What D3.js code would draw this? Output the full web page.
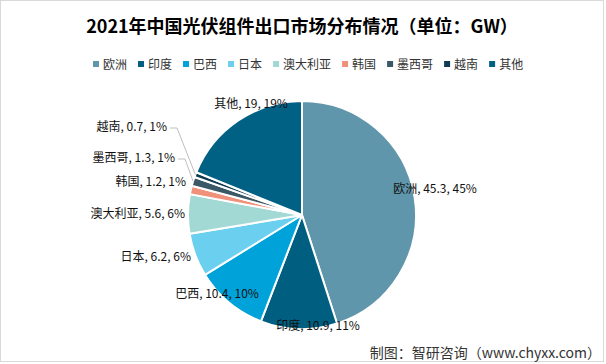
<!DOCTYPE html>
<html>
<head>
<meta charset="utf-8">
<script src="https://cdn.jsdelivr.net/npm/d3@7"></script>
<style>
  body { margin: 0; background: #fff; }
  svg text { font-family: "Noto Sans CJK SC", "Noto Sans", sans-serif; }
</style>
</head>
<body>
<div id="chart"></div>
<script>
// data (GW)
const regions = ["欧洲", "印度", "巴西", "日本", "澳大利亚", "韩国", "墨西哥", "越南", "其他"];
const values = [45.3, 10.9, 10.4, 6.2, 5.6, 1.2, 1.3, 0.7, 19];
const percents = ["45%", "11%", "10%", "6%", "6%", "1%", "1%", "1%", "19%"];
const colors = ["#6096ab", "#005f80", "#00a3d9", "#6bcff0", "#a3d9d5", "#f0917b", "#3b5866", "#0f3c52", "#006185"];

const width = 606, height = 364;
const cx = 302, cy = 215, radius = 114;

// where each label sits, relative to the pie centre
const labelLayout = {
  "欧洲": [133, -22, "middle"],
  "印度": [16, 115, "middle"],
  "巴西": [-85, 83, "middle"],
  "日本": [-111, 46, "end"],
  "澳大利亚": [-117, 3, "end"],
  "韩国": [-116, -29, "end"],
  "墨西哥": [-127, -53, "end"],
  "越南": [-135, -84, "end"],
  "其他": [-51, -107, "middle"]
};
const leaders = ["墨西哥", "越南"];

const svg = d3.select("#chart").append("svg")
  .attr("width", width)
  .attr("height", height);

// outer border
svg.append("rect")
  .attr("x", 0.5).attr("y", 0.5)
  .attr("width", width - 3).attr("height", height - 3)
  .attr("fill", "#fff")
  .attr("stroke", "#d9d9d9");

// title
svg.append("text")
  .attr("x", 302)
  .attr("y", 33)
  .attr("text-anchor", "middle")
  .style("font-size", "18px")
  .style("font-weight", "bold")
  .attr("fill", "#000")
  .text("2021年中国光伏组件出口市场分布情况（单位：GW）");

// legend
const legend = svg.append("g").attr("transform", "translate(93,64)");
let lx = 0;
regions.forEach((name, i) => {
  const item = legend.append("g").attr("transform", "translate(" + lx + ",0)");
  item.append("rect")
    .attr("x", 0).attr("y", -3)
    .attr("width", 6).attr("height", 6)
    .attr("fill", colors[i]);
  const t = item.append("text")
    .attr("x", 10).attr("y", 4.5)
    .style("font-size", "12px")
    .attr("fill", "#333")
    .text(name);
  lx += 10 + t.node().getComputedTextLength() + 11;
});

// pie
const pie = d3.pie().sort(null).value(d => d.value);
const arcs = pie(regions.map((name, i) => ({ name, value: values[i], pct: percents[i], color: colors[i] })));
const arc = d3.arc().innerRadius(0).outerRadius(radius);

const g = svg.append("g").attr("transform", "translate(" + cx + "," + cy + ")");

g.selectAll("path")
  .data(arcs)
  .enter().append("path")
  .attr("d", arc)
  .attr("fill", d => d.data.color)
  .attr("stroke", "#fff")
  .attr("stroke-width", 2)
  .attr("stroke-linejoin", "round");

// labels
const labels = g.selectAll(".lbl")
  .data(arcs)
  .enter().append("text")
  .attr("class", "lbl")
  .attr("x", d => labelLayout[d.data.name][0])
  .attr("y", d => labelLayout[d.data.name][1])
  .attr("text-anchor", d => labelLayout[d.data.name][2])
  .style("font-size", "12px")
  .attr("fill", "#111")
  .text(d => d.data.name + ", " + d.data.value + ", " + d.data.pct);

// leader lines for the thin slices
const edge = d3.arc().innerRadius(radius).outerRadius(radius);
arcs.filter(d => leaders.includes(d.data.name)).forEach(d => {
  const [lxp, lyp] = labelLayout[d.data.name];
  const p = edge.centroid(d);
  g.append("polyline")
    .attr("points", [[lxp + 3, lyp - 3], [lxp + 10, lyp - 3], [p[0], p[1]]].map(q => q.join(",")).join(" "))
    .attr("fill", "none")
    .attr("stroke", "#bfbfbf")
    .attr("stroke-width", 1);
});

// source note
svg.append("text")
  .attr("x", 601)
  .attr("y", 358)
  .attr("text-anchor", "end")
  .style("font-size", "14px")
  .attr("fill", "#333")
  .text("制图：智研咨询（www.chyxx.com）");
</script>
</body>
</html>
